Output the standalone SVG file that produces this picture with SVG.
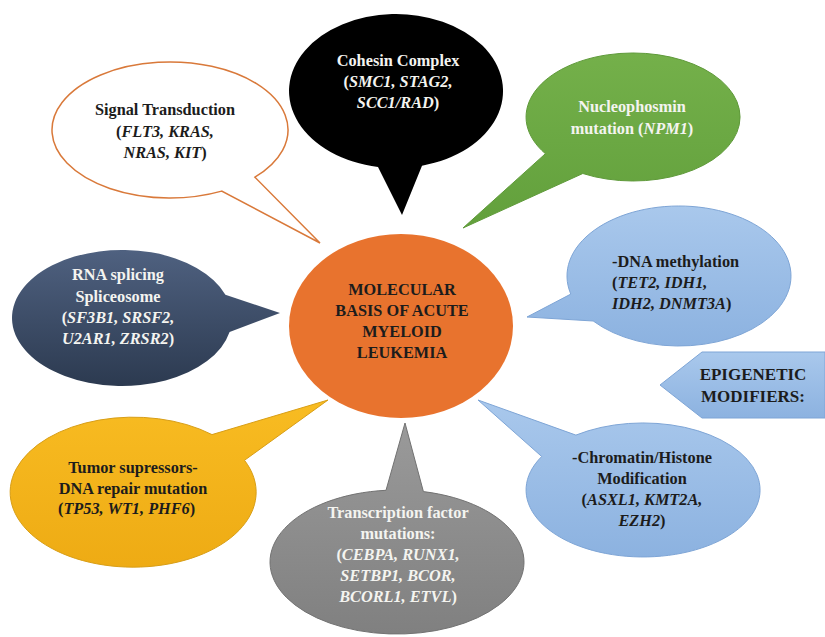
<svg xmlns="http://www.w3.org/2000/svg" width="825" height="637" viewBox="0 0 825 637">
<style>
text{font-family:"Liberation Serif","Times New Roman",serif;font-weight:bold;font-size:16.3px;text-anchor:middle}
.i{font-style:italic}
.w{fill:#f4f4f0}
.d{fill:#1c1c1c}
</style>
<defs>
<linearGradient id="gBlue" x1="0" y1="0" x2="0" y2="1"><stop offset="0" stop-color="#a9c8ec"/><stop offset="1" stop-color="#8cb2e0"/></linearGradient>
<linearGradient id="gNavy" x1="0" y1="0" x2="0" y2="1"><stop offset="0" stop-color="#4f6180"/><stop offset="1" stop-color="#2c3a50"/></linearGradient>
<linearGradient id="gGreen" x1="0" y1="0" x2="0" y2="1"><stop offset="0" stop-color="#74b04a"/><stop offset="1" stop-color="#62a03c"/></linearGradient>
<linearGradient id="gGold" x1="0" y1="0" x2="0" y2="1"><stop offset="0" stop-color="#f8bc22"/><stop offset="1" stop-color="#eeab14"/></linearGradient>
<linearGradient id="gGray" x1="0" y1="0" x2="0" y2="1"><stop offset="0" stop-color="#9a9a9a"/><stop offset="1" stop-color="#808080"/></linearGradient>
</defs>
<rect width="825" height="637" fill="#ffffff"/>
<g id="connectors"></g>

<g id="signal">
<path d="M254.9 177.2 A118 68 0 1 0 221.7 191.1 L320 243 Z" fill="#ffffff" stroke="#d9793a" stroke-width="1.5"/>
<text class="d" x="165" y="115">Signal Transduction</text>
<text class="d" x="165" y="137">(<tspan class="i">FLT3, KRAS,</tspan></text>
<text class="d" x="165" y="158"><tspan class="i">NRAS, KIT</tspan>)</text>
</g>

<g id="cohesin">
<path d="M378 166.9 A107 77 0 1 1 422 165.7 L402 215 Z" fill="#000000"/>
<text class="w" x="398" y="66">Cohesin Complex</text>
<text class="w" x="398" y="87">(<tspan class="i">SMC1, STAG2,</tspan></text>
<text class="w" x="398" y="108"><tspan class="i">SCC1/RAD</tspan>)</text>
</g>

<g id="npm1">
<path d="M582.8 173.5 A107 64 0 1 0 545.4 153.7 L463 228 Z" fill="url(#gGreen)" stroke="#5f9a3a" stroke-width="1"/>
<text class="w" x="632" y="112">Nucleophosmin</text>
<text class="w" x="632" y="134">mutation (<tspan class="i">NPM1</tspan>)</text>
</g>

<g id="dna-methylation">
<path d="M570.8 294.1 A112 70 0 1 1 593.2 321 L527 317 Z" fill="url(#gBlue)" stroke="#7ea5d6" stroke-width="1"/>
<text class="d" x="612" y="267" style="text-anchor:start">-DNA methylation</text>
<text class="d" x="612" y="288" style="text-anchor:start">(<tspan class="i">TET2, IDH1,</tspan></text>
<text class="d" x="612" y="309" style="text-anchor:start"><tspan class="i">IDH2, DNMT3A</tspan>)</text>
</g>

<g id="epigenetic">
<polygon points="660,385 702,352 825,352 825,418 702,418" fill="url(#gBlue)" stroke="#7ea5d6" stroke-width="1"/>
<text class="d" x="753" y="380" style="font-size:17px">EPIGENETIC</text>
<text class="d" x="753" y="402" style="font-size:17px">MODIFIERS:</text>
</g>

<g id="chromatin">
<path d="M541.7 456.5 A117 67 0 1 0 575.9 435.1 L478 400 Z" fill="url(#gBlue)" stroke="#7ea5d6" stroke-width="1"/>
<text class="d" x="642" y="463">-Chromatin/Histone</text>
<text class="d" x="642" y="484">Modification</text>
<text class="d" x="642" y="505">(<tspan class="i">ASXL1, KMT2A,</tspan></text>
<text class="d" x="642" y="526"><tspan class="i">EZH2</tspan>)</text>
</g>

<g id="rna-splicing">
<path d="M229.6 332.1 A110 68 0 1 1 225.4 294.7 L280 313 Z" fill="url(#gNavy)"/>
<text class="w" x="118" y="280">RNA splicing</text>
<text class="w" x="118" y="302">Spliceosome</text>
<text class="w" x="118" y="323">(<tspan class="i">SF3B1, SRSF2,</tspan></text>
<text class="w" x="118" y="344"><tspan class="i">U2AR1, ZRSR2</tspan>)</text>
</g>

<g id="tumor-suppressors">
<path d="M212 434.6 A123 75 0 1 0 244.5 460.3 L328 400 Z" fill="url(#gGold)" stroke="#d89e16" stroke-width="1"/>
<text class="d" x="133" y="473">Tumor supressors-</text>
<text class="d" x="133" y="494">DNA repair mutation</text>
<text class="d" x="58" y="514" style="text-anchor:start">(<tspan class="i">TP53, WT1, PHF6</tspan>)</text>
</g>

<g id="transcription-factor">
<path d="M386 490.3 A127 72 0 1 0 423.4 491.6 L405 423 Z" fill="url(#gGray)" stroke="#727272" stroke-width="1"/>
<text class="w" x="398" y="518">Transcription factor</text>
<text class="w" x="398" y="539">mutations:</text>
<text class="w" x="398" y="560">(<tspan class="i">CEBPA, RUNX1,</tspan></text>
<text class="w" x="398" y="581"><tspan class="i">SETBP1, BCOR,</tspan></text>
<text class="w" x="398" y="602"><tspan class="i">BCORL1, ETVL</tspan>)</text>
</g>

<g id="center">
<ellipse cx="401" cy="326" rx="112" ry="92" fill="#e8732e"/>
<text class="d" x="402" y="295">MOLECULAR</text>
<text class="d" x="402" y="316">BASIS OF ACUTE</text>
<text class="d" x="402" y="337">MYELOID</text>
<text class="d" x="402" y="358">LEUKEMIA</text>
</g>
</svg>
